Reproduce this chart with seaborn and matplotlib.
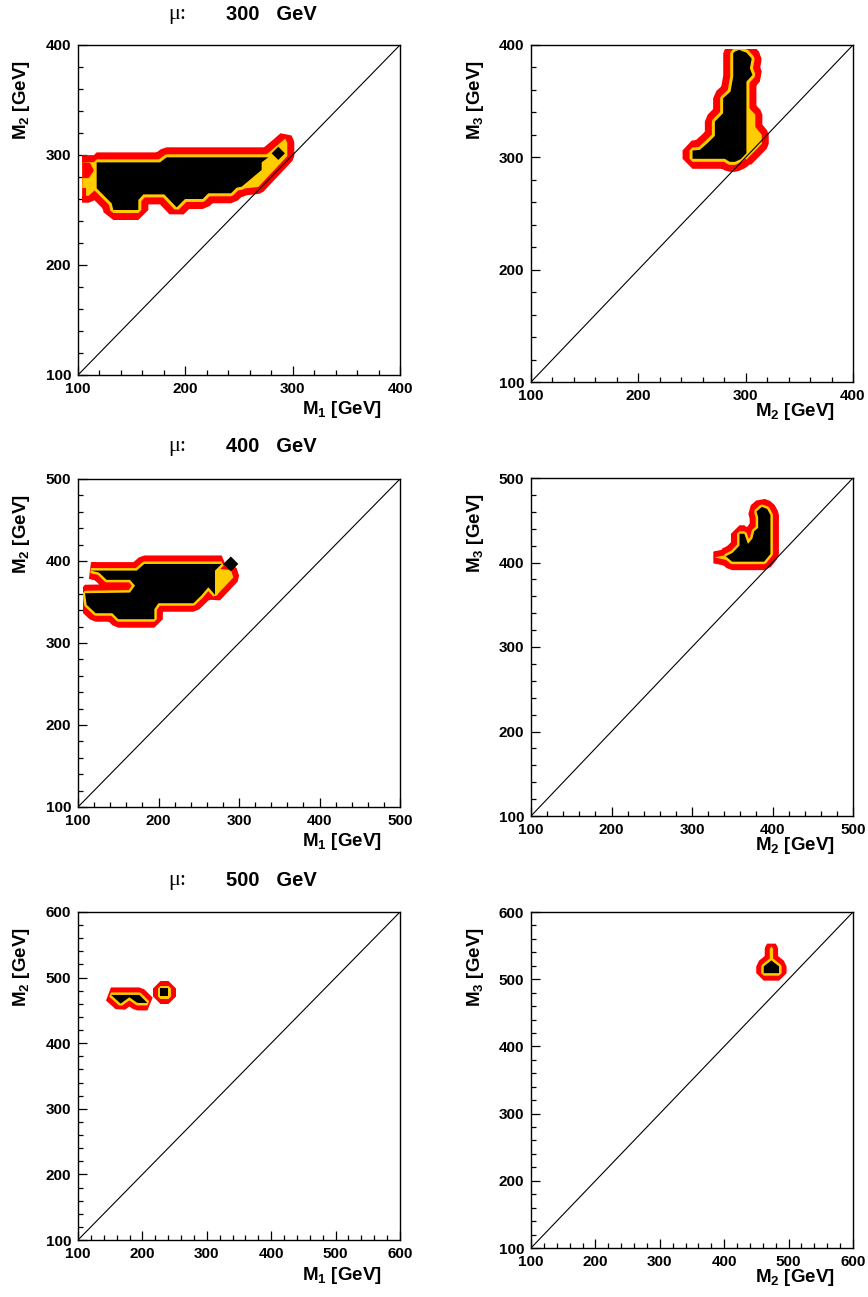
import matplotlib
matplotlib.use('Agg')
import matplotlib.pyplot as plt
import seaborn as sns
from matplotlib.patches import Rectangle
from matplotlib.ticker import MultipleLocator

RED = '#ff0000'
GOLD = '#ffcc00'
W, H, DPI = 868, 1297, 100

mu_values = [300, 400, 500]
axis_max = [400, 500, 600]
axis_min = 100
x_names = ['M$_1$ [GeV]', 'M$_2$ [GeV]']
y_names = ['M$_2$ [GeV]', 'M$_3$ [GeV]']

# contour outlines, in GeV
# black = inner region, yellow = wider 2nd-band pieces, red = extra outer-band pieces

# ---- mu = 300, M1 vs M2
p1_black = [(117.4, 293.3), (176.4, 293.3), (182.6, 297.9), (277.3, 297.9), (271.1, 293.3),
            (271.1, 286.4), (252.5, 271.2), (247.8, 270.3), (242.5, 265.2), (221.4, 265.2),
            (216.1, 260.0), (199.7, 260.0), (191.9, 252.4), (180.4, 264.2), (160.9, 264.2),
            (156.2, 259.1), (156.2, 250.0), (132.9, 250.0), (131.4, 256.0), (117.4, 269.7)]
p1_diamond = [(280.4, 301.5), (286.6, 307.5), (292.8, 301.5), (286.6, 295.5)]
p1_yellow_right = [(270, 296), (286, 309), (293, 315), (295, 311), (295, 299),
                   (268, 271), (250, 269), (268, 290)]
p1_yellow_left = [(104, 293.5), (118, 293.5), (118, 270), (110, 263), (104, 263)]
p1_red_arrow = [(104, 293.5), (111, 293), (115, 286), (110, 279), (104, 279)]
p1_red_corner = [(104, 270), (107.5, 270), (107.5, 263), (104, 262)]

# ---- mu = 300, M2 vs M3
p2_black = [(289.9, 394.1), (293.9, 395.6), (300.7, 393.2), (305.4, 388.2), (305.4, 386.7),
            (303.9, 379.3), (306.3, 373.3), (300.7, 367.4), (300.7, 303.7), (295.4, 298.4),
            (289.9, 296.0), (285.2, 296.0), (280.6, 298.7), (250.5, 298.7), (250.5, 306.1),
            (257.3, 306.6), (265.1, 313.2), (271.3, 319.1), (271.3, 331.8), (279.0, 339.3),
            (279.0, 352.6), (285.9, 358.5), (288.4, 371.9), (288.4, 392.6)]
p2_yellow = [(300.7, 368), (302, 345), (309, 338), (309, 327), (315, 320), (315, 312),
             (300.7, 298), (298, 300)]

# ---- mu = 400, M1 vs M2
p3_black = [(116.1, 388.3), (172.9, 388.3), (182.4, 396.4), (278.5, 396.4), (270.2, 388.3),
            (270.2, 358.7), (261.9, 368.0), (252.8, 357.5), (243.3, 348.5), (199.8, 348.5),
            (194.8, 341.2), (194.8, 329.0), (150.1, 329.0), (142.7, 336.3), (121.9, 336.3),
            (110.8, 346.5), (108.7, 360.7), (164.6, 361.5), (170.8, 370.0), (164.6, 377.0),
            (135.6, 377.0), (126.1, 385.9)]
p3_diamond = [(280.5, 396.4), (289.9, 405.5), (299.2, 396.4), (289.9, 387.3)]
p3_yellow = [(268, 391), (290, 389), (293, 380), (271, 357), (262, 369)]

# ---- mu = 400, M2 vs M3
p4_black = [(386.7, 465.8), (393.3, 463.4), (397.4, 456.3), (397.4, 410.1), (389.6, 401.0),
            (349.8, 401.0), (342.0, 407.4), (350.2, 411.3), (359.0, 420.0), (359.0, 434.0),
            (365.0, 434.0), (369.5, 422.0), (375.1, 428.5), (377.2, 437.0), (382.2, 441.0),
            (382.2, 453.6), (380.1, 460.3)]
p4_yellow = [(328, 406), (343, 409), (343, 403)]

# ---- mu = 500, M1 vs M2
p5_black_a = [(151.2, 473.6), (195.3, 473.6), (207.7, 461.4), (192.2, 461.4),
              (179.8, 470.0), (166.2, 460.4)]
p5_black_b = [(228, 472), (239, 472), (239, 484), (228, 484)]

# ---- mu = 500, M2 vs M3
p6_black = [(461.4, 509), (461.4, 519), (473.3, 528), (485.2, 519), (485.2, 509)]
p6_yellow = [(470.7, 525), (470.7, 545), (473.3, 549), (475.9, 545), (475.9, 525)]

panels = [
    dict(black=[p1_black], diam=[p1_diamond], yellow=[p1_yellow_right, p1_yellow_left],
         red=[p1_red_arrow, p1_red_corner], clip=(103.7, 400, 100, 400)),
    dict(black=[p2_black], diam=[], yellow=[p2_yellow], red=[], clip=(100, 400, 100, 396)),
    dict(black=[p3_black], diam=[p3_diamond], yellow=[p3_yellow], red=[], clip=(105.8, 500, 100, 500)),
    dict(black=[p4_black], diam=[], yellow=[p4_yellow], red=[], clip=(100, 500, 100, 500)),
    dict(black=[p5_black_a, p5_black_b], diam=[], yellow=[], red=[], clip=(100, 600, 100, 600)),
    dict(black=[p6_black], diam=[], yellow=[p6_yellow], red=[], clip=(100, 600, 100, 600)),
]

# band widths in pixels per row (red, yellow)
bands = [(7, 3), (6, 2.5), (5, 2.5)]

# axes boxes in pixels: left, top, right, bottom
boxes = [(78, 45, 400, 375), (531, 45, 853, 382),
         (78, 479, 400, 807), (531, 478, 853, 816),
         (78, 912, 400, 1240), (531, 912, 853, 1248)]
title_y = [14, 447, 880]

sns.set_theme(style='white')
plt.rcParams['font.family'] = ['Liberation Sans', 'DejaVu Sans']
plt.rcParams['font.weight'] = 'bold'
plt.rcParams['text.color'] = 'black'
plt.rcParams['axes.labelcolor'] = 'black'
plt.rcParams['xtick.color'] = 'black'
plt.rcParams['ytick.color'] = 'black'
plt.rcParams['mathtext.fontset'] = 'custom'
plt.rcParams['mathtext.rm'] = 'Liberation Sans:bold'
plt.rcParams['mathtext.it'] = 'Liberation Sans:bold'
plt.rcParams['mathtext.bf'] = 'Liberation Sans:bold'

fig = plt.figure(figsize=(W / DPI, H / DPI), dpi=DPI)
pt = 72.0 / DPI


def fill(ax, poly, clip, **kw):
    xs, ys = zip(*poly)
    for p in ax.fill(xs, ys, joinstyle='bevel', **kw):
        p.set_clip_path(clip)


for i, pan in enumerate(panels):
    row, col = i // 2, i % 2
    l, t, r, b = boxes[i]
    ax = fig.add_axes([l / W, 1 - b / H, (r - l) / W, (b - t) / H])
    hi = axis_max[row]
    red_px, yel_px = bands[row]
    c = pan['clip']
    clip = Rectangle((c[0], c[2]), c[1] - c[0], c[3] - c[2], transform=ax.transData)

    for poly in pan['black']:
        fill(ax, poly, clip, fc=RED, ec=RED, lw=2 * (red_px + yel_px) * pt)
    for poly in pan['yellow']:
        fill(ax, poly, clip, fc=RED, ec=RED, lw=2 * red_px * pt)
    for poly in pan['yellow']:
        fill(ax, poly, clip, fc=GOLD, ec='none', lw=0)
    for poly in pan['red']:
        fill(ax, poly, clip, fc=RED, ec='none', lw=0)
    for poly in pan['black']:
        fill(ax, poly, clip, fc=GOLD, ec=GOLD, lw=2 * yel_px * pt)
    for poly in pan['black'] + pan['diam']:
        fill(ax, poly, clip, fc='black', ec='none', lw=0)

    sns.lineplot(x=[axis_min, hi], y=[axis_min, hi], ax=ax, color='black', lw=0.8)

    ax.set_xlim(axis_min, hi)
    ax.set_ylim(axis_min, hi)
    ax.xaxis.set_major_locator(MultipleLocator(100))
    ax.yaxis.set_major_locator(MultipleLocator(100))
    ax.xaxis.set_minor_locator(MultipleLocator(20))
    ax.yaxis.set_minor_locator(MultipleLocator(20))
    ax.tick_params(which='both', direction='in', top=False, right=False,
                   bottom=True, left=True, color='black', width=0.9)
    ax.tick_params(which='major', length=6.5, labelsize=11, pad=5, labelcolor='black')
    ax.tick_params(which='minor', length=3.8)
    for lab in ax.get_xticklabels() + ax.get_yticklabels():
        lab.set_fontweight('bold')
    for s in ax.spines.values():
        s.set_color('black')
        s.set_linewidth(1.0)
    ax.set_xlabel('')
    ax.set_ylabel('')

    xoff = 35 if col == 0 else 30
    fig.text((r - 18) / W, 1 - (b + xoff) / H, x_names[col], ha='right', va='center',
             fontsize=13.5, fontweight='bold', color='black')
    fig.text((l - 56) / W, 1 - (t + 15) / H, y_names[col], ha='center', va='top',
             rotation=90, fontsize=13.5, fontweight='bold', color='black')

for row, mu in enumerate(mu_values):
    fig.text(168 / W, 1 - title_y[row] / H, 'μ:', family='Liberation Serif',
             fontweight='normal', fontsize=16, ha='left', va='center', color='black')
    fig.text(226 / W, 1 - title_y[row] / H, f'{mu}   GeV', fontsize=14.5,
             fontweight='bold', ha='left', va='center', color='black')

fig.savefig('out.png', dpi=DPI)
